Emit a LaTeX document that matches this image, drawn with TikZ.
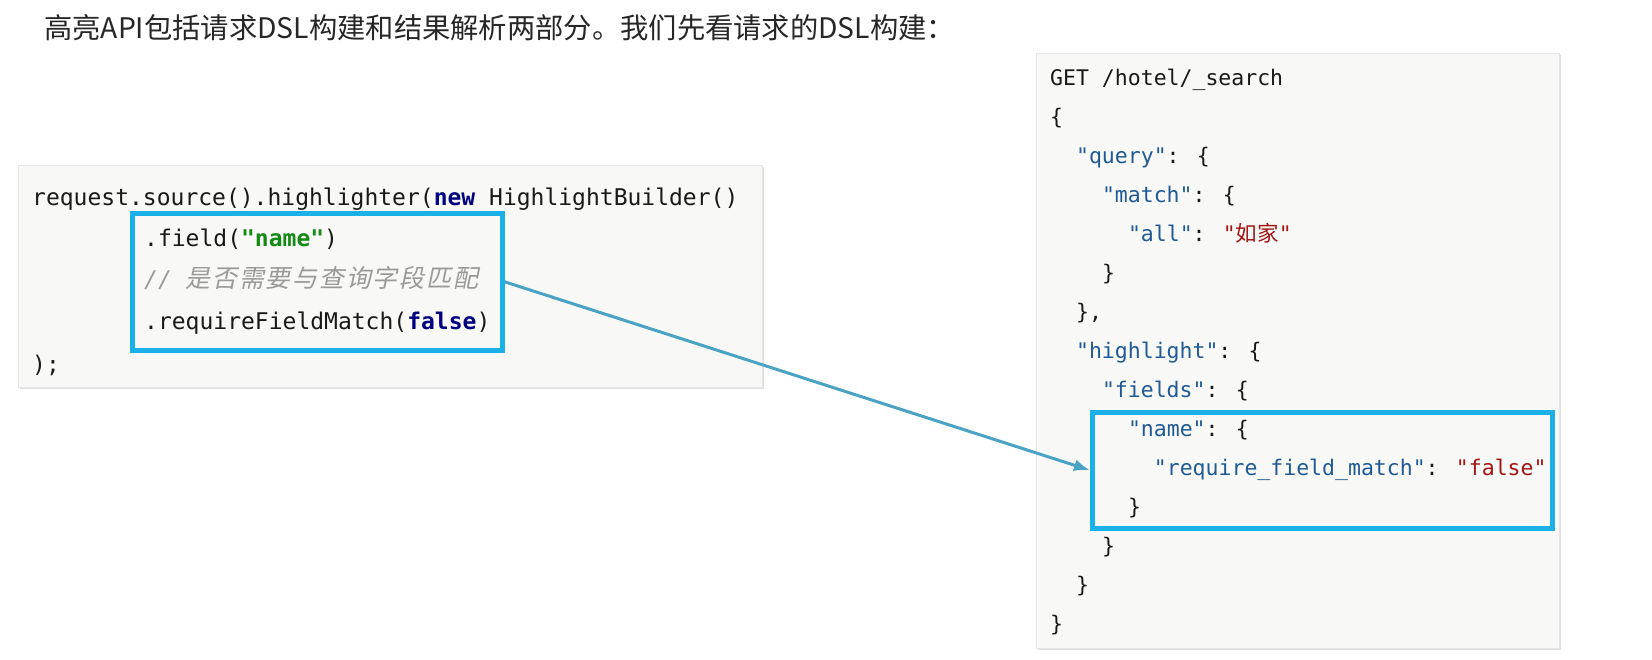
\documentclass[tikz,border=0pt]{standalone}
\usepackage{fontspec}
\newfontfamily\codefont{DejaVu Sans Mono}
\newfontfamily\cjk{Noto Sans CJK SC}
\newfontfamily\cjkit[FakeSlant=0.2,LetterSpace=7]{Noto Sans CJK SC}
\usetikzlibrary{arrows.meta,shadows}
\definecolor{panelbg}{HTML}{F8F9F6}
\definecolor{markblue}{HTML}{1CB0E8}
\definecolor{arrowblue}{HTML}{4AA3C4}
\definecolor{keyblue}{HTML}{1F5A96}
\definecolor{strred}{HTML}{A31515}
\definecolor{kwnavy}{HTML}{000080}
\definecolor{strgreen}{HTML}{138A13}
\definecolor{commentgray}{HTML}{9A9A9A}
\newcommand{\kw}[1]{{\bfseries\color{kwnavy}#1}}
\newcommand{\jkey}[1]{{\color{keyblue}"#1"}}
\newcommand{\jstr}[1]{{\color{strred}"#1"}}
\begin{document}
\begin{tikzpicture}[x=1pt,y=-1pt,
    panel/.style={draw=black!10, fill=panelbg, anchor=north west, inner sep=0pt,
      drop shadow={opacity=0.25, shadow xshift=2pt, shadow yshift=-2pt}},
    markbox/.style={draw=markblue, line width=4.5pt, anchor=north west, inner sep=0pt},
    javaline/.style={anchor=west, inner sep=0pt, text height=0.75em, text depth=0.22em,
      font=\codefont\fontsize{23}{23}\selectfont, text=black!90},
    jsonline/.style={anchor=west, inner sep=0pt, text height=0.75em, text depth=0.22em,
      font=\codefont\fontsize{21.5}{21.5}\selectfont, text=black!90}]
      \useasboundingbox (0,0) rectangle (1652,659);

      \node[anchor=west, inner sep=0pt, font=\cjk\fontsize{28.3}{28.3}\selectfont, text=black!85] (title) at (44,28)
        {高亮API包括请求DSL构建和结果解析两部分。我们先看请求的DSL构建：};

      % java side
      \node[panel, minimum width=744pt, minimum height=222pt] (javapanel) at (18,165) {};
      \node[markbox, minimum width=370pt, minimum height=137pt] (fieldbox) at (130,211) {};
      \node[javaline] (j1) at (32,203) {request.source().highlighter(\kw{new} HighlightBuilder()};
      \node[javaline] (j2) at (144,244) {.field({\bfseries\color{strgreen}"name"})};
      \node[javaline, text=commentgray] (j3) at (144,285) {\itshape // {\cjkit\fontsize{25}{25}\selectfont 是否需要与查询字段匹配}};
      \node[javaline] (j4) at (144,327) {.requireFieldMatch(\kw{false})};
      \node[javaline] (j5) at (32,370) {);};

      % json side
      \node[panel, minimum width=523pt, minimum height=595pt] (jsonpanel) at (1036,53) {};
      \node[markbox, minimum width=460pt, minimum height=116pt] (namebox) at (1090,410) {};
      \node[jsonline] (d1) at (1050,83) {GET /hotel/\_search};
      \node[jsonline] (d2) at (1050,122) {\{};
      \node[jsonline] (d3) at (1075.9,161) {\jkey{query}: \{};
      \node[jsonline] (d4) at (1101.8,200) {\jkey{match}: \{};
      \node[jsonline] (d5) at (1127.8,239) {\jkey{all}: \jstr{{\cjk 如家}}};
      \node[jsonline] (d6) at (1101.8,278) {\}};
      \node[jsonline] (d7) at (1075.9,317) {\},};
      \node[jsonline] (d8) at (1075.9,356) {\jkey{highlight}: \{};
      \node[jsonline] (d9) at (1101.8,395) {\jkey{fields}: \{};
      \node[jsonline] (d10) at (1127.8,434) {\jkey{name}: \{};
      \node[jsonline] (d11) at (1153.7,473) {\jkey{require\_field\_match}: \jstr{false}};
      \node[jsonline] (d12) at (1127.8,512) {\}};
      \node[jsonline] (d13) at (1101.8,551) {\}};
      \node[jsonline] (d14) at (1075.9,590) {\}};
      \node[jsonline] (d15) at (1050,629) {\}};

      \draw [arrowblue, line width=3pt, -{Latex[length=16pt,width=12pt]}] (fieldbox.east) -- (namebox.west);

      \end{tikzpicture}
\end{document}
